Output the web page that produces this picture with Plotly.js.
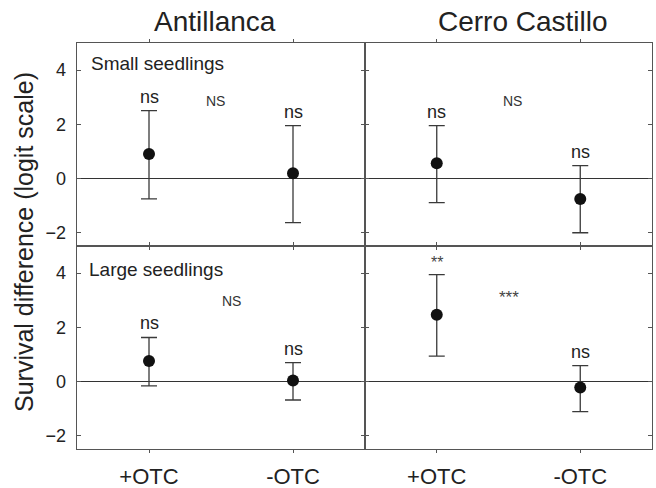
<!DOCTYPE html>
<html>
<head>
<meta charset="utf-8">
<script src="https://cdn.plot.ly/plotly-3.0.1.min.js"></script>
<style>html,body{margin:0;padding:0;background:#fff}#chart{width:656px;height:488px}</style>
</head>
<body>
<div id="chart"></div>
<script>
// ---- data ----
var categories = ['+OTC', '-OTC'];
var sites = ['Antillanca', 'Cerro Castillo'];
var sizeClasses = ['Small seedlings', 'Large seedlings'];

// Small seedlings
var smallAntMean = [0.90, 0.19];
var smallAntUpper = [2.50, 1.95];
var smallAntLower = [-0.76, -1.64];
var smallCCMean = [0.56, -0.76];
var smallCCUpper = [1.95, 0.47];
var smallCCLower = [-0.90, -2.01];
// Large seedlings
var largeAntMean = [0.75, 0.03];
var largeAntUpper = [1.62, 0.69];
var largeAntLower = [-0.17, -0.69];
var largeCCMean = [2.46, -0.23];
var largeCCUpper = [3.94, 0.58];
var largeCCLower = [0.93, -1.12];

// significance labels
var smallAntSig = ['ns', 'ns'];
var smallCCSig = ['ns', 'ns'];
var largeAntSig = ['ns', 'ns'];
var largeCCSig = ['**', 'ns'];
var panelSig = ['NS', 'NS', 'NS', '***']; // small-Ant, small-CC, large-Ant, large-CC

var yTickVals = [-2, 0, 2, 4];

// ---- build ----
var FONT = 'Liberation Sans, Arial, sans-serif';
var panels = [
  {mean: smallAntMean, up: smallAntUpper, lo: smallAntLower, sig: smallAntSig, xa: 'x', ya: 'y'},
  {mean: smallCCMean, up: smallCCUpper, lo: smallCCLower, sig: smallCCSig, xa: 'x2', ya: 'y2'},
  {mean: largeAntMean, up: largeAntUpper, lo: largeAntLower, sig: largeAntSig, xa: 'x3', ya: 'y3'},
  {mean: largeCCMean, up: largeCCUpper, lo: largeCCLower, sig: largeCCSig, xa: 'x4', ya: 'y4'}
];

var traces = [];
var annotations = [];
panels.forEach(function (p) {
  traces.push({
    type: 'scatter', mode: 'markers', x: categories, y: p.mean,
    xaxis: p.xa, yaxis: p.ya,
    marker: {size: 12, color: '#111'},
    error_y: {
      type: 'data', symmetric: false,
      array: p.up.map(function (u, i) { return u - p.mean[i]; }),
      arrayminus: p.lo.map(function (l, i) { return p.mean[i] - l; }),
      color: '#3a3a3a', thickness: 1.3, width: 8
    },
    hoverinfo: 'skip', showlegend: false
  });
  p.sig.forEach(function (s, i) {
    var star = s.indexOf('*') >= 0;
    annotations.push({
      text: s, xref: p.xa, yref: p.ya, x: categories[i], y: p.up[i],
      xanchor: 'center', yanchor: 'bottom', yshift: 2, showarrow: false,
      font: {family: FONT, size: star ? 16 : 18, color: star ? '#444' : '#222'}
    });
  });
});

var W = 656, H = 488;
var xL = [77 / W, 365 / W], xR = [365 / W, 652 / W];
var yT = [(H - 246) / H, (H - 43) / H], yB = [(H - 449) / H, (H - 246) / H];

function xax(domain, showLabels, anchor) {
  return {
    domain: domain, anchor: anchor, type: 'category', range: [-0.5, 1.5],
    showline: true, mirror: 'ticks', linecolor: '#555', linewidth: 1.3,
    ticks: 'outside', ticklen: 3, tickcolor: '#555', tickwidth: 1,
    showticklabels: showLabels, showgrid: false, zeroline: false,
    tickfont: {family: FONT, size: 22, color: '#222'},
    ticklabelstandoff: 4,
    fixedrange: true
  };
}
function yax(domain, showLabels, anchor) {
  return {
    domain: domain, anchor: anchor, range: [-2.5, 5],
    tickvals: yTickVals,
    showline: true, mirror: 'ticks', linecolor: '#555', linewidth: 1.3,
    ticks: 'inside', ticklen: 4, tickcolor: '#555', tickwidth: 1,
    showticklabels: showLabels, showgrid: false,
    zeroline: true, zerolinecolor: '#333', zerolinewidth: 1,
    tickfont: {family: FONT, size: 18, color: '#222'},
    ticklabelstandoff: 6,
    fixedrange: true
  };
}

annotations = annotations.concat([
  {text: sites[0], xref: 'paper', yref: 'paper', x: 215 / W, y: (H - 21) / H, showarrow: false,
   xanchor: 'center', yanchor: 'middle', font: {family: FONT, size: 28, color: '#222'}},
  {text: sites[1], xref: 'paper', yref: 'paper', x: 523 / W, y: (H - 21) / H, showarrow: false,
   xanchor: 'center', yanchor: 'middle', font: {family: FONT, size: 28, color: '#222'}},
  {text: 'Survival difference (logit scale)', xref: 'paper', yref: 'paper', x: 24 / W, y: (H - 242) / H,
   showarrow: false, textangle: -90, xanchor: 'center', yanchor: 'middle',
   font: {family: FONT, size: 25, color: '#222'}},
  {text: sizeClasses[0], xref: 'x domain', yref: 'y domain', x: 0.04, y: 0.90, showarrow: false,
   xanchor: 'left', yanchor: 'middle', font: {family: FONT, size: 19, color: '#222'}},
  {text: sizeClasses[1], xref: 'x3 domain', yref: 'y3 domain', x: 0.035, y: 0.885, showarrow: false,
   xanchor: 'left', yanchor: 'middle', font: {family: FONT, size: 19, color: '#222'}},
  {text: panelSig[0], xref: 'x', yref: 'y', x: 0.46, y: 2.87, showarrow: false,
   font: {family: FONT, size: 14, color: '#333'}},
  {text: panelSig[1], xref: 'x2', yref: 'y2', x: 0.53, y: 2.87, showarrow: false,
   font: {family: FONT, size: 14, color: '#333'}},
  {text: panelSig[2], xref: 'x3', yref: 'y3', x: 0.575, y: 2.97, showarrow: false,
   font: {family: FONT, size: 14, color: '#333'}},
  {text: panelSig[3], xref: 'x4', yref: 'y4', x: 0.5, y: 3.1, showarrow: false,
   font: {family: FONT, size: 17, color: '#444'}}
]);

var layout = {
  width: W, height: H,
  margin: {l: 0, r: 0, t: 0, b: 0},
  paper_bgcolor: '#fff', plot_bgcolor: '#fff',
  font: {family: FONT},
  showlegend: false,
  xaxis: xax(xL, false, 'y'), yaxis: yax(yT, true, 'x'),
  xaxis2: xax(xR, false, 'y2'), yaxis2: yax(yT, false, 'x2'),
  xaxis3: xax(xL, true, 'y3'), yaxis3: yax(yB, true, 'x3'),
  xaxis4: xax(xR, true, 'y4'), yaxis4: yax(yB, false, 'x4'),
  annotations: annotations
};

Plotly.newPlot('chart', traces, layout, {staticPlot: true, displayModeBar: false});
</script>
</body>
</html>
